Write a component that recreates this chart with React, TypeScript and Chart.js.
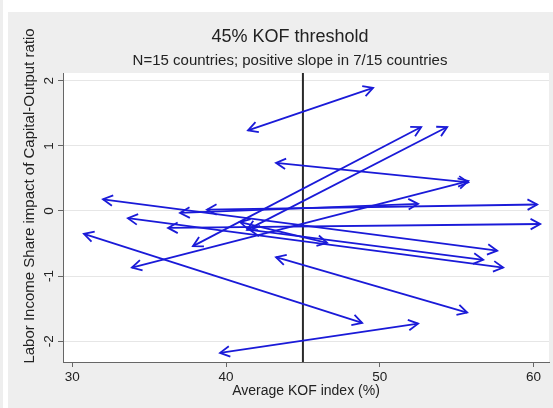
import { useEffect, useRef } from 'react';
import { Chart, registerables } from 'chart.js';

Chart.register(...registerables);

// Average KOF index (%) and labor-share impact at each end of a country's segment
const kofLeft = [41.43, 43.25, 39.61, 43.25, 30.76, 33.88, 37.85, 41.37, 32.0, 37.01, 38.76, 33.62, 36.23, 40.91, 41.56];
const impactLeft = [1.24, 0.74, -2.18, -0.71, -0.35, -0.87, -0.54, -0.29, 0.18, -0.03, 0.02, -0.11, -0.26, -0.17, -0.29];
const kofRight = [49.56, 55.75, 52.49, 55.68, 48.85, 55.75, 52.69, 54.38, 57.63, 52.49, 60.23, 58.02, 60.43, 46.57, 56.72];
const impactRight = [1.89, 0.44, -1.73, -1.56, -1.72, 0.46, 1.29, 1.29, -0.61, 0.11, 0.1, -0.87, -0.2, -0.49, -0.75];

const kofThreshold = 45;
const xTicks = [30, 40, 50, 60];
const yTicks = [-2, -1, 0, 1, 2];
const xRange = [29.4, 61.0];
const yRange = [-2.32, 2.12];

const titleText = '45% KOF threshold';
const subtitleText = 'N=15 countries; positive slope in 7/15 countries';
const xTitle = 'Average KOF index (%)';
const yTitle = 'Labor Income Share impact of Capital-Output ratio';

const FONT = '"Liberation Sans", Arial, sans-serif';
const ARROW = '#1a1ad8';
const TEXT = '#222222';

function drawHead(ctx: CanvasRenderingContext2D, tx: number, ty: number, fx: number, fy: number) {
  const ang = Math.atan2(ty - fy, tx - fx);
  const len = 11;
  const spread = 0.5;
  ctx.beginPath();
  ctx.moveTo(tx - len * Math.cos(ang - spread), ty - len * Math.sin(ang - spread));
  ctx.lineTo(tx, ty);
  ctx.lineTo(tx - len * Math.cos(ang + spread), ty - len * Math.sin(ang + spread));
  ctx.stroke();
}

const panelPlugin = {
  id: 'panel',
  beforeDraw(chart: any) {
    const { ctx, chartArea: a, width, height } = chart;
    ctx.save();
    ctx.fillStyle = '#ffffff';
    ctx.fillRect(0, 0, width, height);
    ctx.fillStyle = '#eeeeee';
    ctx.fillRect(0, 0, 3, height);
    ctx.fillRect(8, 12, width - 8, height - 12);
    ctx.fillStyle = '#ffffff';
    ctx.fillRect(a.left, a.top, a.right - a.left, a.bottom - a.top);
    ctx.restore();
  },
  afterDatasetsDraw(chart: any) {
    const { ctx } = chart;
    ctx.save();
    ctx.strokeStyle = ARROW;
    ctx.lineWidth = 1.8;
    ctx.lineJoin = 'miter';
    for (let i = 0; i < kofLeft.length; i++) {
      const pts = chart.getDatasetMeta(i).data;
      const p0 = pts[0];
      const p1 = pts[1];
      drawHead(ctx, p0.x, p0.y, p1.x, p1.y);
      drawHead(ctx, p1.x, p1.y, p0.x, p0.y);
    }
    ctx.restore();
  },
  afterDraw(chart: any) {
    const { ctx, chartArea: a } = chart;
    ctx.save();
    ctx.fillStyle = TEXT;
    ctx.textAlign = 'center';
    ctx.textBaseline = 'middle';
    ctx.font = `18px ${FONT}`;
    ctx.fillText(titleText, 290, 37);
    ctx.font = `15px ${FONT}`;
    ctx.fillText(subtitleText, 290, 61);
    ctx.font = `14px ${FONT}`;
    ctx.fillText(xTitle, (a.left + a.right) / 2, 391);
    ctx.font = `15px ${FONT}`;
    ctx.translate(30, 196);
    ctx.rotate(-Math.PI / 2);
    ctx.fillText(yTitle, 0, 0);
    ctx.restore();
  },
};

export default function App() {
  const canvasRef = useRef<HTMLCanvasElement | null>(null);

  useEffect(() => {
    const canvas = canvasRef.current;
    if (!canvas) return;

    const arrowSets = kofLeft.map((_, i) => ({
      data: [
        { x: kofLeft[i], y: impactLeft[i] },
        { x: kofRight[i], y: impactRight[i] },
      ],
      showLine: true,
      borderColor: ARROW,
      borderWidth: 1.8,
      pointRadius: 0,
      fill: false,
    }));

    const thresholdSet = {
      data: [
        { x: kofThreshold, y: yRange[0] },
        { x: kofThreshold, y: yRange[1] },
      ],
      showLine: true,
      borderColor: '#2a2a2a',
      borderWidth: 2,
      pointRadius: 0,
      fill: false,
    };

    const chart = new Chart(canvas, {
      type: 'scatter',
      data: { datasets: [...arrowSets, thresholdSet] },
      options: {
        animation: false,
        responsive: false,
        devicePixelRatio: 1,
        layout: { padding: { top: 73, right: 4, left: 0, bottom: 0 } },
        plugins: {
          legend: { display: false },
          tooltip: { enabled: false },
          title: { display: false },
        },
        scales: {
          x: {
            type: 'linear',
            min: xRange[0],
            max: xRange[1],
            afterBuildTicks: (s: any) => {
              s.ticks = xTicks.map((v) => ({ value: v }));
            },
            afterFit: (s: any) => {
              s.height = 46;
            },
            ticks: {
              autoSkip: false,
              maxRotation: 0,
              padding: 2,
              color: TEXT,
              font: { family: FONT, size: 13.5 },
            },
            grid: { drawOnChartArea: false, tickLength: 5, tickColor: '#666666' },
            border: { color: '#666666', width: 1 },
          },
          y: {
            type: 'linear',
            min: yRange[0],
            max: yRange[1],
            afterBuildTicks: (s: any) => {
              s.ticks = yTicks.map((v) => ({ value: v }));
            },
            afterFit: (s: any) => {
              s.width = 63;
            },
            ticks: {
              autoSkip: false,
              minRotation: 90,
              maxRotation: 90,
              crossAlign: 'center',
              padding: 3,
              color: TEXT,
              font: { family: FONT, size: 13.5 },
            },
            grid: { color: '#e6e6e6', lineWidth: 1, tickLength: 5, tickColor: '#666666' },
            border: { color: '#666666', width: 1 },
          },
        },
      },
      plugins: [panelPlugin],
    } as any);

    return () => chart.destroy();
  }, []);

  return (
    <div style={{ position: 'absolute', left: 0, top: 0, width: 553, height: 408 }}>
      <canvas ref={canvasRef} width={553} height={408} style={{ display: 'block' }} />
    </div>
  );
}
